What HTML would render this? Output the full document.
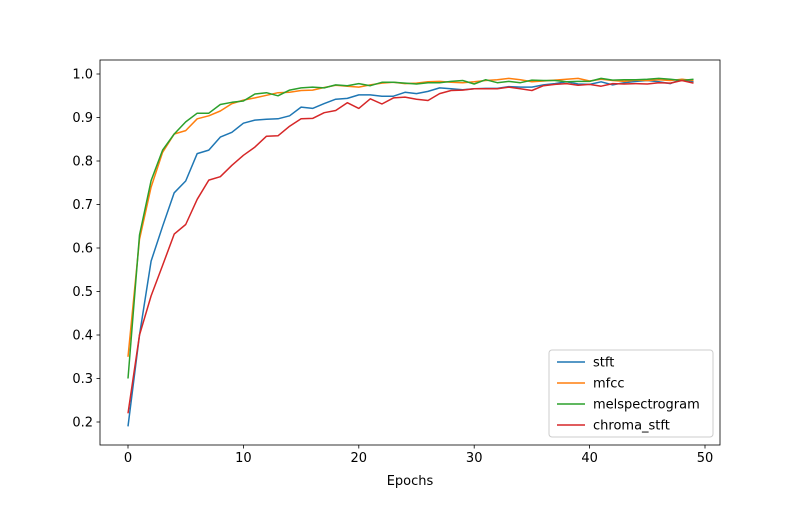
<!DOCTYPE html>
<html><head><meta charset="utf-8"><style>
body{margin:0;background:#fff;font-family:"Liberation Sans","DejaVu Sans",sans-serif}
svg text{font-family:"DejaVu Sans","Liberation Sans",sans-serif;font-size:13px;fill:#000}
</style></head><body>
<svg id="chart" width="800" height="500" xmlns="http://www.w3.org/2000/svg"></svg>
<script>
const epochs = Array.from({length:50},(_,i)=>i);
const seriesNames = ["stft","mfcc","melspectrogram","chroma_stft"];
const stft = [0.19,0.40,0.57,0.65,0.727,0.754,0.817,0.825,0.855,0.866,0.887,0.894,0.896,0.897,0.904,0.924,0.921,0.932,0.942,0.944,0.952,0.952,0.949,0.949,0.958,0.955,0.960,0.968,0.966,0.964,0.966,0.967,0.967,0.971,0.970,0.970,0.975,0.978,0.982,0.977,0.976,0.982,0.975,0.980,0.983,0.985,0.982,0.978,0.988,0.982];
const mfcc = [0.35,0.62,0.74,0.82,0.862,0.870,0.897,0.904,0.915,0.932,0.940,0.945,0.951,0.957,0.958,0.962,0.963,0.969,0.974,0.972,0.970,0.975,0.979,0.981,0.978,0.979,0.982,0.983,0.981,0.980,0.982,0.985,0.987,0.990,0.987,0.982,0.984,0.986,0.988,0.990,0.984,0.988,0.985,0.983,0.986,0.985,0.987,0.985,0.988,0.985];
const mel = [0.30,0.63,0.755,0.825,0.862,0.890,0.910,0.910,0.930,0.935,0.938,0.954,0.957,0.950,0.963,0.968,0.970,0.968,0.975,0.973,0.978,0.973,0.981,0.981,0.979,0.977,0.980,0.980,0.983,0.985,0.977,0.987,0.980,0.983,0.980,0.986,0.985,0.985,0.982,0.983,0.983,0.990,0.986,0.987,0.987,0.988,0.990,0.988,0.985,0.988];
const chroma = [0.22,0.40,0.49,0.56,0.632,0.654,0.712,0.756,0.764,0.790,0.813,0.832,0.857,0.858,0.880,0.897,0.898,0.911,0.916,0.934,0.921,0.943,0.931,0.945,0.947,0.942,0.939,0.955,0.962,0.963,0.966,0.966,0.966,0.970,0.966,0.962,0.973,0.976,0.978,0.974,0.976,0.972,0.978,0.977,0.978,0.977,0.980,0.979,0.985,0.979];
const xTicks = [0,10,20,30,40,50];
const yTicks = [0.2,0.3,0.4,0.5,0.6,0.7,0.8,0.9,1.0];
const colors = ["#1f77b4","#ff7f0e","#2ca02c","#d62728"];

const svg = document.getElementById('chart');
const NS = "http://www.w3.org/2000/svg";
const L=100,R=720,T=60,B=445;
const xS = v => 128 + v*(705-128)/50;
const yS = v => 422 - (v-0.2)*(422-74)/0.8;
function mk(tag, attrs){const e=document.createElementNS(NS,tag);for(const k in attrs)e.setAttribute(k,attrs[k]);svg.appendChild(e);return e;}

const series=[stft,mfcc,mel,chroma];
series.forEach((d,si)=>{
  const p=mk('polyline',{points:d.map((v,i)=>xS(epochs[i]).toFixed(1)+','+yS(v).toFixed(1)).join(' '),fill:'none',stroke:colors[si],'stroke-width':1.5,'stroke-linejoin':'round'});
  
  
});
const frame=mk('rect',{x:L,y:T,width:R-L,height:B-T,fill:'none',stroke:'#000','stroke-width':0.8});


xTicks.forEach(t=>{
  const x=xS(t);
  const tk=mk('line',{x1:x,x2:x,y1:B,y2:B+3.5,stroke:'#000','stroke-width':0.8});
  
  
  const tx=mk('text',{x:x,y:B+17,'text-anchor':'middle'});tx.textContent=t;
  
  
});
yTicks.forEach(t=>{
  const y=yS(t);
  const tk=mk('line',{x1:L-3.5,x2:L,y1:y,y2:y,stroke:'#000','stroke-width':0.8});
  
  
  const tx=mk('text',{x:L-7,y:y+4.5,'text-anchor':'end'});tx.textContent=t.toFixed(1);
  
  
});
const xt=mk('text',{x:410,y:485,'text-anchor':'middle'});xt.textContent='Epochs';


const lg=mk('rect',{x:549,y:350,width:164,height:87,rx:3,fill:'#fff','fill-opacity':0.8,stroke:'#ccc','stroke-width':1});


seriesNames.forEach((n,i)=>{
  const y=362+i*21;
  const ln=mk('line',{x1:557,x2:585,y1:y,y2:y,stroke:colors[i],'stroke-width':1.5});
  
  
  const tx=mk('text',{x:593,y:y+4.5});tx.textContent=n;
  
  
});
</script>
</body></html>
